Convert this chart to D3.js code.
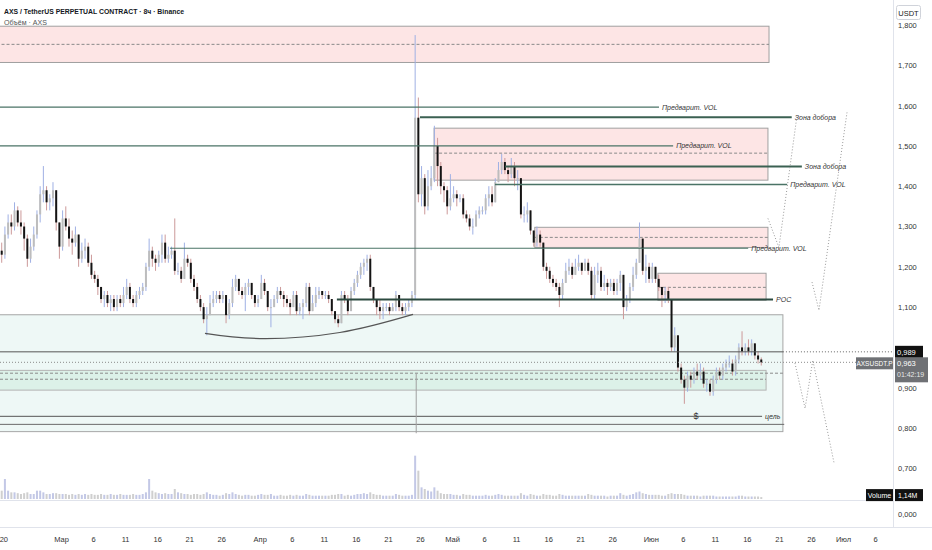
<!DOCTYPE html>
<html>
<head>
<meta charset="utf-8">
<script src="https://cdn.jsdelivr.net/npm/d3@7"></script>
<style>
  body { margin: 0; background: #fff; }
  svg { display: block; font-family: "Liberation Sans", Arial, sans-serif; }
</style>
</head>
<body>
<div id="chart"></div>
<script>
// AXSUSDT.P, 12h candles (open = previous close)
var firstTime = "2025-02-19T18:00Z";
var firstOpen = 1.24;
var closes = [
  1.23,1.28,1.31,1.30,1.34,1.31,1.30,1.27,1.22,1.25,
  1.28,1.33,1.38,1.39,1.36,1.37,1.39,1.31,1.25,1.32,
  1.30,1.27,1.26,1.28,1.22,1.24,1.25,1.21,1.18,1.17,
  1.15,1.12,1.13,1.11,1.12,1.10,1.12,1.11,1.13,1.15,
  1.12,1.11,1.13,1.14,1.15,1.20,1.24,1.22,1.21,1.23,
  1.26,1.22,1.23,1.24,1.19,1.19,1.17,1.22,1.21,1.17,
  1.15,1.12,1.10,1.07,1.08,1.11,1.12,1.13,1.12,1.13,
  1.08,1.11,1.15,1.17,1.14,1.13,1.15,1.16,1.13,1.11,
  1.12,1.16,1.14,1.10,1.10,1.12,1.14,1.13,1.12,1.11,
  1.10,1.13,1.09,1.10,1.11,1.15,1.09,1.11,1.13,1.14,
  1.13,1.13,1.12,1.09,1.07,1.06,1.13,1.12,1.09,1.14,
  1.16,1.18,1.20,1.21,1.22,1.15,1.12,1.10,1.09,1.10,
  1.10,1.09,1.10,1.13,1.10,1.09,1.10,1.11,1.13,1.57,
  1.38,1.42,1.35,1.40,1.42,1.50,1.45,1.40,1.39,1.35,
  1.37,1.38,1.37,1.37,1.33,1.32,1.30,1.30,1.33,1.34,
  1.34,1.37,1.38,1.36,1.41,1.44,1.46,1.44,1.43,1.45,
  1.42,1.42,1.33,1.33,1.34,1.29,1.26,1.28,1.26,1.20,
  1.19,1.17,1.16,1.15,1.13,1.16,1.19,1.20,1.18,1.20,
  1.21,1.19,1.21,1.19,1.13,1.18,1.19,1.15,1.16,1.15,
  1.16,1.14,1.16,1.18,1.10,1.12,1.15,1.18,1.21,1.27,
  1.19,1.20,1.17,1.20,1.17,1.15,1.13,1.14,1.12,1.00,
  1.03,0.95,0.92,0.90,0.93,0.92,0.94,0.93,0.94,0.91,
  0.91,0.89,0.92,0.94,0.93,0.95,0.96,0.96,0.94,0.97,
  1.00,0.99,1.00,0.99,1.01,0.98,0.97,0.963
];
var highs = [
  1.26,1.30,1.33,1.33,1.36,1.35,1.34,1.31,1.28,1.27,
  1.30,1.34,1.40,1.45,1.40,1.38,1.41,1.39,1.31,1.34,
  1.35,1.32,1.29,1.30,1.28,1.26,1.27,1.26,1.23,1.19,
  1.18,1.15,1.14,1.14,1.13,1.13,1.13,1.13,1.15,1.17,
  1.16,1.13,1.14,1.15,1.16,1.21,1.27,1.25,1.23,1.24,
  1.28,1.28,1.25,1.25,1.32,1.21,1.20,1.26,1.23,1.22,
  1.18,1.16,1.13,1.11,1.10,1.13,1.14,1.14,1.14,1.14,
  1.13,1.12,1.17,1.18,1.17,1.15,1.16,1.17,1.16,1.13,
  1.13,1.18,1.17,1.14,1.12,1.13,1.15,1.15,1.14,1.13,
  1.12,1.14,1.14,1.11,1.12,1.16,1.16,1.13,1.15,1.15,
  1.14,1.14,1.14,1.12,1.09,1.08,1.14,1.14,1.13,1.15,
  1.17,1.19,1.21,1.22,1.23,1.23,1.15,1.12,1.12,1.11,
  1.11,1.11,1.11,1.14,1.13,1.11,1.11,1.12,1.14,1.775,
  1.62,1.45,1.43,1.44,1.45,1.55,1.52,1.46,1.41,1.40,
  1.43,1.40,1.39,1.38,1.38,1.34,1.33,1.32,1.34,1.35,
  1.35,1.38,1.40,1.40,1.42,1.46,1.48,1.47,1.45,1.47,
  1.46,1.44,1.42,1.35,1.36,1.34,1.29,1.30,1.29,1.26,
  1.21,1.20,1.18,1.17,1.16,1.17,1.21,1.22,1.21,1.22,
  1.23,1.21,1.22,1.22,1.20,1.20,1.21,1.20,1.18,1.17,
  1.17,1.17,1.17,1.19,1.18,1.13,1.16,1.20,1.22,1.31,
  1.27,1.23,1.21,1.21,1.20,1.18,1.15,1.15,1.15,1.12,
  1.05,1.03,0.96,0.93,0.94,0.94,0.95,0.96,0.96,0.95,
  0.92,0.92,0.93,0.95,0.95,0.96,0.97,0.98,0.97,0.98,
  1.01,1.04,1.01,1.02,1.02,1.01,0.99,0.975
];
var lows = [
  1.21,1.22,1.27,1.28,1.29,1.30,1.28,1.24,1.20,1.21,
  1.24,1.27,1.31,1.36,1.34,1.34,1.35,1.29,1.22,1.24,
  1.29,1.25,1.23,1.25,1.20,1.21,1.22,1.20,1.17,1.16,
  1.13,1.11,1.10,1.10,1.09,1.09,1.09,1.10,1.10,1.12,
  1.11,1.10,1.10,1.12,1.13,1.14,1.19,1.20,1.19,1.20,
  1.21,1.21,1.21,1.22,1.18,1.18,1.16,1.17,1.20,1.16,
  1.14,1.11,1.09,1.06,1.03,1.08,1.10,1.11,1.11,1.11,
  1.06,1.07,1.10,1.14,1.13,1.12,1.09,1.13,1.12,1.10,
  1.10,1.12,1.13,1.09,1.05,1.10,1.11,1.12,1.10,1.10,
  1.08,1.10,1.08,1.08,1.07,1.10,1.08,1.09,1.10,1.12,
  1.12,1.12,1.11,1.08,1.06,1.05,1.06,1.11,1.08,1.09,
  1.13,1.15,1.17,1.18,1.19,1.14,1.11,1.08,1.07,1.07,
  1.09,1.08,1.09,1.09,1.09,1.08,1.08,1.09,1.10,1.12,
  1.36,1.35,1.33,1.34,1.39,1.41,1.40,1.38,1.36,1.33,
  1.34,1.36,1.35,1.36,1.32,1.31,1.29,1.28,1.30,1.32,
  1.33,1.33,1.35,1.35,1.36,1.41,1.43,1.43,1.41,1.42,
  1.40,1.39,1.32,1.31,1.31,1.28,1.25,1.25,1.25,1.19,
  1.17,1.16,1.15,1.14,1.10,1.12,1.16,1.18,1.17,1.18,
  1.19,1.18,1.19,1.18,1.12,1.12,1.16,1.14,1.14,1.13,
  1.14,1.13,1.13,1.14,1.07,1.09,1.11,1.14,1.17,1.21,
  1.18,1.16,1.16,1.16,1.16,1.14,1.10,1.11,1.11,0.99,
  0.99,0.94,0.91,0.86,0.89,0.90,0.91,0.92,0.92,0.90,
  0.89,0.88,0.88,0.91,0.92,0.92,0.94,0.95,0.93,0.93,
  0.96,0.98,0.98,0.98,0.98,0.97,0.96,0.955
];
// volume in millions AXS
var volumes = [
  5,12,5,4,4,3.5,3,3.5,4,3,
  3,5,5,4,3,3,3.5,3.5,3,3,
  3,2.5,3,2.5,3,2.5,3,2.5,3,2.5,
  2.5,3,2.5,2.5,3,2.5,2.5,3,2.5,2.5,
  2.5,3,2.5,2.5,3,4,12,5,4,3.5,
  3,3.5,3,3,6,4,3.5,3,3,2.5,
  3,3,2.5,3,4,3,2.5,2.5,2,2.5,
  3.5,3,4,3,2.5,2,2.5,2.5,2,2,
  2.5,3,2.5,2.5,3,2,2,2.5,2,2,
  2.5,2,2.5,2,2,3,2.5,2,2,2,
  2,2,2,2.5,2.5,3,3,2,2.5,2,
  2.5,3,3,3.5,3,4,3,2.5,2.5,2,
  2,2,2,3,2.5,2,2,2,2.5,26,
  17,7,6,5,4.5,7,5,3.5,3,3,
  3,2.5,2.5,2,3,2.5,2.5,2,2,2,
  2,2.5,2,2,2.5,3,2.5,2,2,2,
  2,2,3.5,2.5,2,3,2.5,2,2,3,
  2.5,2.5,2,2,3,2.5,2,2,2,2,
  2,2,2,3,2.5,2,2,2,2,1.5,
  2,2,2,3.5,2.5,2,2.5,3,4,4.5,
  3.5,3,2.5,2.5,2.5,2.5,2,2,3,3.5,
  3,3,3,2.5,2,2,2,2,1.5,2,
  2,2,2,1.5,1.5,1.5,1.5,1.5,1.5,1.5,
  2,2,1.5,1.5,1.5,1.5,1.5,1.14
];

var monthNames = ["Янв", "Фев", "Мар", "Апр", "Май", "Июн", "Июл"];
var tickDates = ["2025-02-20", "2025-03-01", "2025-03-06", "2025-03-11", "2025-03-16", "2025-03-21", "2025-03-26",
  "2025-04-01", "2025-04-06", "2025-04-11", "2025-04-16", "2025-04-21", "2025-04-26",
  "2025-05-01", "2025-05-06", "2025-05-11", "2025-05-16", "2025-05-21", "2025-05-26",
  "2025-06-01", "2025-06-06", "2025-06-11", "2025-06-16", "2025-06-21", "2025-06-26",
  "2025-07-01", "2025-07-06"];
var priceTicks = [0.7, 0.8, 0.9, 1.0, 1.1, 1.2, 1.3, 1.4, 1.5, 1.6, 1.7, 1.8];

// drawings: [from, to, top, bottom, dashed middle]
var pinkZones = [
  ["2025-02-01T00:00Z", "2025-06-19T11:00Z", 1.797, 1.707, 1.752],
  ["2025-04-28T05:00Z", "2025-06-19T07:00Z", 1.544, 1.415, 1.482],
  ["2025-05-13T22:00Z", "2025-06-19T07:00Z", 1.298, 1.248, 1.273],
  ["2025-06-02T03:00Z", "2025-06-19T00:00Z", 1.184, 1.117, 1.149]
];
var tealZone = ["2025-02-01T00:00Z", "2025-06-21T15:00Z", 1.081, 0.791];
var greenZone = ["2025-02-01T00:00Z", "2025-06-19T00:00Z", 0.943, 0.894];
// horizontal levels: [from, to, price, label, width, colour]
var levels = [
  ["2025-02-01T00:00Z", "2025-06-02T07:00Z", 1.596, "Предварит. VOL", 1.2, "#4a7366"],
  ["2025-04-26T00:00Z", "2025-06-23T00:00Z", 1.571, "Зона добора", 2, "#3b6152"],
  ["2025-02-01T00:00Z", "2025-06-04T12:00Z", 1.500, "Предварит. VOL", 1.2, "#4a7366"],
  ["2025-05-09T07:00Z", "2025-06-24T14:00Z", 1.449, "Зона добора", 2, "#3b6152"],
  ["2025-05-07T17:00Z", "2025-06-22T07:00Z", 1.404, "Предварит. VOL", 1.5, "#4a7366"],
  ["2025-03-18T00:00Z", "2025-06-16T05:00Z", 1.246, "Предварит. VOL", 1.2, "#4a7366"],
  ["2025-04-13T01:00Z", "2025-06-20T02:00Z", 1.119, "POC", 2, "#2c4a40"],
  ["2025-02-01T00:00Z", "2025-06-18T09:00Z", 0.829, "цель", 1, "#555555"],
  ["2025-02-01T00:00Z", "2025-06-21T20:00Z", 0.809, "", 1, "#6a6a6a"]
];
// dashed lines inside the lower zone: [to, price]
var dashedLevels = [["2025-06-21T15:00Z", 0.936], ["2025-06-19T00:00Z", 0.921]];
var markPrice = 0.989;
var arcPoints = [["2025-03-23T11:00Z", 1.035], ["2025-04-01T01:00Z", 1.022], ["2025-04-13T12:00Z", 1.037], ["2025-04-24T22:00Z", 1.082]];
var spikeLine = ["2025-04-25T10:00Z", 0.935, 0.787];
var pathUp1 = [["2025-06-19T07:00Z", 1.320], ["2025-06-21T00:00Z", 1.248], ["2025-06-23T20:00Z", 1.576]];
var pathUp2 = [["2025-06-26T04:00Z", 1.162], ["2025-06-27T06:00Z", 1.092], ["2025-07-01T15:00Z", 1.583]];
var pathDown = [["2025-06-23T12:00Z", 0.961], ["2025-06-25T02:00Z", 0.849], ["2025-06-26T07:00Z", 0.968], ["2025-06-29T14:00Z", 0.715]];
var dollarMark = ["2025-06-08T02:00Z", 0.831];

var chart = {};

chart.init = function() {
    var width = 932, height = 550;
    var plotRight = 893, plotBottom = 500;

    var svg = d3.select("#chart")
        .append("svg")
        .attr("width", width)
        .attr("height", height);

    var x = d3.scaleUtc()
        .domain([new Date("2025-03-01T00:00Z"), new Date("2025-07-01T00:00Z")])
        .range([61, 843]);
    var y = d3.scaleLinear().domain([0.7, 1.8]).range([468.3, 25]);
    var yVol = d3.scaleLinear().domain([0, 30]).range([499, 449]);
    var T = function(s) { return x(new Date(s)); };
    var fmt = function(v) { return d3.format(".3f")(v).replace(".", ","); };

    var t0 = new Date(firstTime).getTime();
    var candles = closes.map(function(c, i) {
        var o = i === 0 ? firstOpen : closes[i - 1];
        return { t: new Date(t0 + i * 12 * 3600 * 1000), o: o, c: c,
                 h: Math.max(highs[i], o, c), l: Math.min(lows[i], o, c), v: volumes[i] };
    });
    var last = candles[candles.length - 1];

    svg.append("defs").append("clipPath").attr("id", "plot")
        .append("rect").attr("x", 0).attr("y", 0).attr("width", plotRight).attr("height", plotBottom);

    var g = svg.append("g").attr("clip-path", "url(#plot)");

    // zones under the candles
    g.append("rect")
        .attr("x", T(tealZone[0])).attr("y", y(tealZone[2]))
        .attr("width", T(tealZone[1]) - T(tealZone[0])).attr("height", y(tealZone[3]) - y(tealZone[2]))
        .attr("fill", "#eef8f6").attr("stroke", "#a6a6a6");
    g.append("rect")
        .attr("x", T(greenZone[0])).attr("y", y(greenZone[2]))
        .attr("width", T(greenZone[1]) - T(greenZone[0])).attr("height", y(greenZone[3]) - y(greenZone[2]))
        .attr("fill", "#dcf1e8").attr("stroke", "#b4b4b4");

    g.selectAll(".pz").data(pinkZones).enter().append("rect")
        .attr("x", function(d) { return T(d[0]); })
        .attr("y", function(d) { return y(d[2]); })
        .attr("width", function(d) { return T(d[1]) - T(d[0]); })
        .attr("height", function(d) { return y(d[3]) - y(d[2]); })
        .attr("fill", "#fde5e5").attr("stroke", "#a0a0a0");
    g.selectAll(".pzm").data(pinkZones).enter().append("line")
        .attr("x1", function(d) { return T(d[0]); }).attr("x2", function(d) { return T(d[1]); })
        .attr("y1", function(d) { return y(d[4]); }).attr("y2", function(d) { return y(d[4]); })
        .attr("stroke", "#8a8a8a").attr("stroke-dasharray", "3,2");

    g.selectAll(".dl").data(dashedLevels).enter().append("line")
        .attr("x1", 0).attr("x2", function(d) { return T(d[0]); })
        .attr("y1", function(d) { return y(d[1]); }).attr("y2", function(d) { return y(d[1]); })
        .attr("stroke", "#8a8a8a").attr("stroke-dasharray", "3,2");

    // volume
    g.selectAll(".vol").data(candles).enter().append("rect")
        .attr("x", function(d) { return x(d.t) - 1; })
        .attr("y", function(d) { return yVol(d.v); })
        .attr("width", 2)
        .attr("height", function(d) { return yVol(0) - yVol(d.v); })
        .attr("fill", function(d) { return d.c >= d.o ? "#c3c8e6" : "#cfcfcf"; });

    // candles
    g.selectAll(".wick").data(candles).enter().append("line")
        .attr("x1", function(d) { return x(d.t); }).attr("x2", function(d) { return x(d.t); })
        .attr("y1", function(d) { return y(d.h); }).attr("y2", function(d) { return y(d.l); })
        .attr("stroke", function(d) { return d.c >= d.o ? "#9fb0e4" : "#cc9999"; })
        .attr("stroke-width", 1);
    g.selectAll(".body").data(candles).enter().append("rect")
        .attr("x", function(d) { return x(d.t) - 1; })
        .attr("y", function(d) { return y(Math.max(d.o, d.c)); })
        .attr("width", 2)
        .attr("height", function(d) { return Math.max(1, Math.abs(y(d.o) - y(d.c))); })
        .attr("fill", function(d) { return d.c >= d.o ? "#bdbdbd" : "#141414"; });

    // levels
    g.selectAll(".lvl").data(levels).enter().append("line")
        .attr("x1", function(d) { return T(d[0]); }).attr("x2", function(d) { return T(d[1]); })
        .attr("y1", function(d) { return y(d[2]); }).attr("y2", function(d) { return y(d[2]); })
        .attr("stroke", function(d) { return d[5]; })
        .attr("stroke-width", function(d) { return d[4]; });
    g.selectAll(".lvlt").data(levels).enter().append("text")
        .attr("x", function(d) { return T(d[1]) + 3; })
        .attr("y", function(d) { return y(d[2]) + 2.5; })
        .attr("font-size", 7).attr("font-style", "italic").attr("fill", "#333")
        .text(function(d) { return d[3]; });

    g.append("text")
        .attr("x", T(dollarMark[0])).attr("y", y(dollarMark[1]) + 3)
        .attr("text-anchor", "middle").attr("font-size", 9).attr("fill", "#333")
        .text("$");

    // mark price and last price lines
    g.append("line")
        .attr("x1", 0).attr("x2", T(tealZone[1]))
        .attr("y1", y(markPrice)).attr("y2", y(markPrice))
        .attr("stroke", "#555").attr("stroke-width", 1);
    g.append("line")
        .attr("x1", T(tealZone[1])).attr("x2", plotRight)
        .attr("y1", y(markPrice)).attr("y2", y(markPrice))
        .attr("stroke", "#666").attr("stroke-dasharray", "1,2");
    g.append("line")
        .attr("x1", 0).attr("x2", plotRight)
        .attr("y1", y(last.c)).attr("y2", y(last.c))
        .attr("stroke", "#8a8a8a").attr("stroke-dasharray", "1,2");

    // arc and vertical marker
    var line = d3.line()
        .x(function(d) { return T(d[0]); })
        .y(function(d) { return y(d[1]); });
    g.append("path").datum(arcPoints)
        .attr("d", line.curve(d3.curveNatural))
        .attr("fill", "none").attr("stroke", "#555").attr("stroke-width", 1.2);
    g.append("line")
        .attr("x1", T(spikeLine[0])).attr("x2", T(spikeLine[0]))
        .attr("y1", y(spikeLine[1])).attr("y2", y(spikeLine[2]))
        .attr("stroke", "#a0a0a0");

    // projected paths
    line.curve(d3.curveLinear);
    [pathUp1, pathUp2, pathDown].forEach(function(p) {
        g.append("path").datum(p)
            .attr("d", line)
            .attr("fill", "none").attr("stroke", "#9a9a9a").attr("stroke-width", 1)
            .attr("stroke-dasharray", "1,2");
    });

    // pane separators
    svg.append("line").attr("x1", 0).attr("x2", plotRight).attr("y1", plotBottom + 0.5).attr("y2", plotBottom + 0.5)
        .attr("stroke", "#e0e3eb");
    svg.append("line").attr("x1", 0).attr("x2", width).attr("y1", 527.5).attr("y2", 527.5)
        .attr("stroke", "#e0e3eb");
    svg.append("line").attr("x1", plotRight + 0.5).attr("x2", plotRight + 0.5).attr("y1", 0).attr("y2", 527)
        .attr("stroke", "#e0e3eb");

    // price axis; labels hidden behind the price badges are left out
    var shownTicks = priceTicks.filter(function(p) {
        return Math.abs(y(p) - y(markPrice)) > 10 && (y(p) < y(last.c) - 9 || y(p) > y(last.c) + 24);
    });
    var yAxis = svg.append("g")
        .attr("transform", "translate(" + plotRight + ",0)")
        .call(d3.axisRight(y).tickValues(shownTicks).tickFormat(fmt).tickSize(0).tickPadding(5));
    yAxis.select(".domain").remove();
    yAxis.selectAll("text").attr("font-size", 7.5).attr("fill", "#333").attr("font-family", null);

    svg.append("text").attr("x", plotRight + 5).attr("y", 517)
        .attr("font-size", 7.5).attr("fill", "#333").text(fmt(0));

    // time axis
    var xAxis = svg.append("g")
        .attr("transform", "translate(0,537)")
        .call(d3.axisBottom(x)
            .tickValues(tickDates.map(function(s) { return new Date(s); }))
            .tickFormat(function(d) {
                var day = d.getUTCDate();
                return day === 1 ? monthNames[d.getUTCMonth()] : String(day);
            })
            .tickSize(0).tickPadding(0));
    xAxis.select(".domain").remove();
    xAxis.selectAll("text").attr("font-size", 7.5).attr("fill", "#333").attr("font-family", null);

    // axis badges
    svg.append("rect").attr("x", 896.5).attr("y", 5.5).attr("width", 24).attr("height", 14).attr("rx", 2)
        .attr("fill", "#fff").attr("stroke", "#d0d3da");
    svg.append("text").attr("x", 908.5).attr("y", 15.5).attr("text-anchor", "middle")
        .attr("font-size", 7.5).attr("fill", "#222").text("USDT");

    svg.append("rect").attr("x", plotRight + 2).attr("y", y(markPrice) - 6).attr("width", 28).attr("height", 12)
        .attr("fill", "#111");
    svg.append("text").attr("x", plotRight + 4).attr("y", y(markPrice) + 3)
        .attr("font-size", 7.5).attr("fill", "#fff").text(fmt(markPrice));

    svg.append("rect").attr("x", 856).attr("y", y(last.c) - 5).attr("width", 37).attr("height", 12)
        .attr("fill", "#6f7175");
    svg.append("text").attr("x", 874.5).attr("y", y(last.c) + 4).attr("text-anchor", "middle")
        .attr("font-size", 6.5).attr("fill", "#fff").text("AXSUSDT.P");
    svg.append("rect").attr("x", plotRight + 2).attr("y", y(last.c) - 5).attr("width", 33).attr("height", 25)
        .attr("fill", "#6f7175");
    svg.append("text").attr("x", plotRight + 4).attr("y", y(last.c) + 4)
        .attr("font-size", 7.5).attr("fill", "#fff").text(fmt(last.c));
    svg.append("text").attr("x", plotRight + 4).attr("y", y(last.c) + 15)
        .attr("font-size", 7).attr("fill", "#e8e8e8").text("01:42:19");

    svg.append("rect").attr("x", 866).attr("y", yVol(last.v) - 8).attr("width", 27).attr("height", 12)
        .attr("fill", "#111");
    svg.append("text").attr("x", 879.5).attr("y", yVol(last.v) + 1).attr("text-anchor", "middle")
        .attr("font-size", 7).attr("fill", "#fff").text("Volume");
    svg.append("rect").attr("x", plotRight + 2).attr("y", yVol(last.v) - 8).attr("width", 28).attr("height", 12)
        .attr("fill", "#111");
    svg.append("text").attr("x", plotRight + 5).attr("y", yVol(last.v) + 1)
        .attr("font-size", 7).attr("fill", "#fff").text(d3.format(".2f")(last.v).replace(".", ",") + "M");

    // header
    svg.append("text").attr("x", 4).attr("y", 14)
        .attr("font-size", 8).attr("font-weight", "bold").attr("fill", "#131722")
        .attr("textLength", 180).attr("lengthAdjust", "spacingAndGlyphs")
        .text("AXS / TetherUS PERPETUAL CONTRACT · 8ч · Binance");
    svg.append("text").attr("x", 4).attr("y", 25)
        .attr("font-size", 7.5).attr("fill", "#555")
        .attr("textLength", 43).attr("lengthAdjust", "spacingAndGlyphs")
        .text("Объём · AXS");
};

chart.init();
</script>
</body>
</html>
